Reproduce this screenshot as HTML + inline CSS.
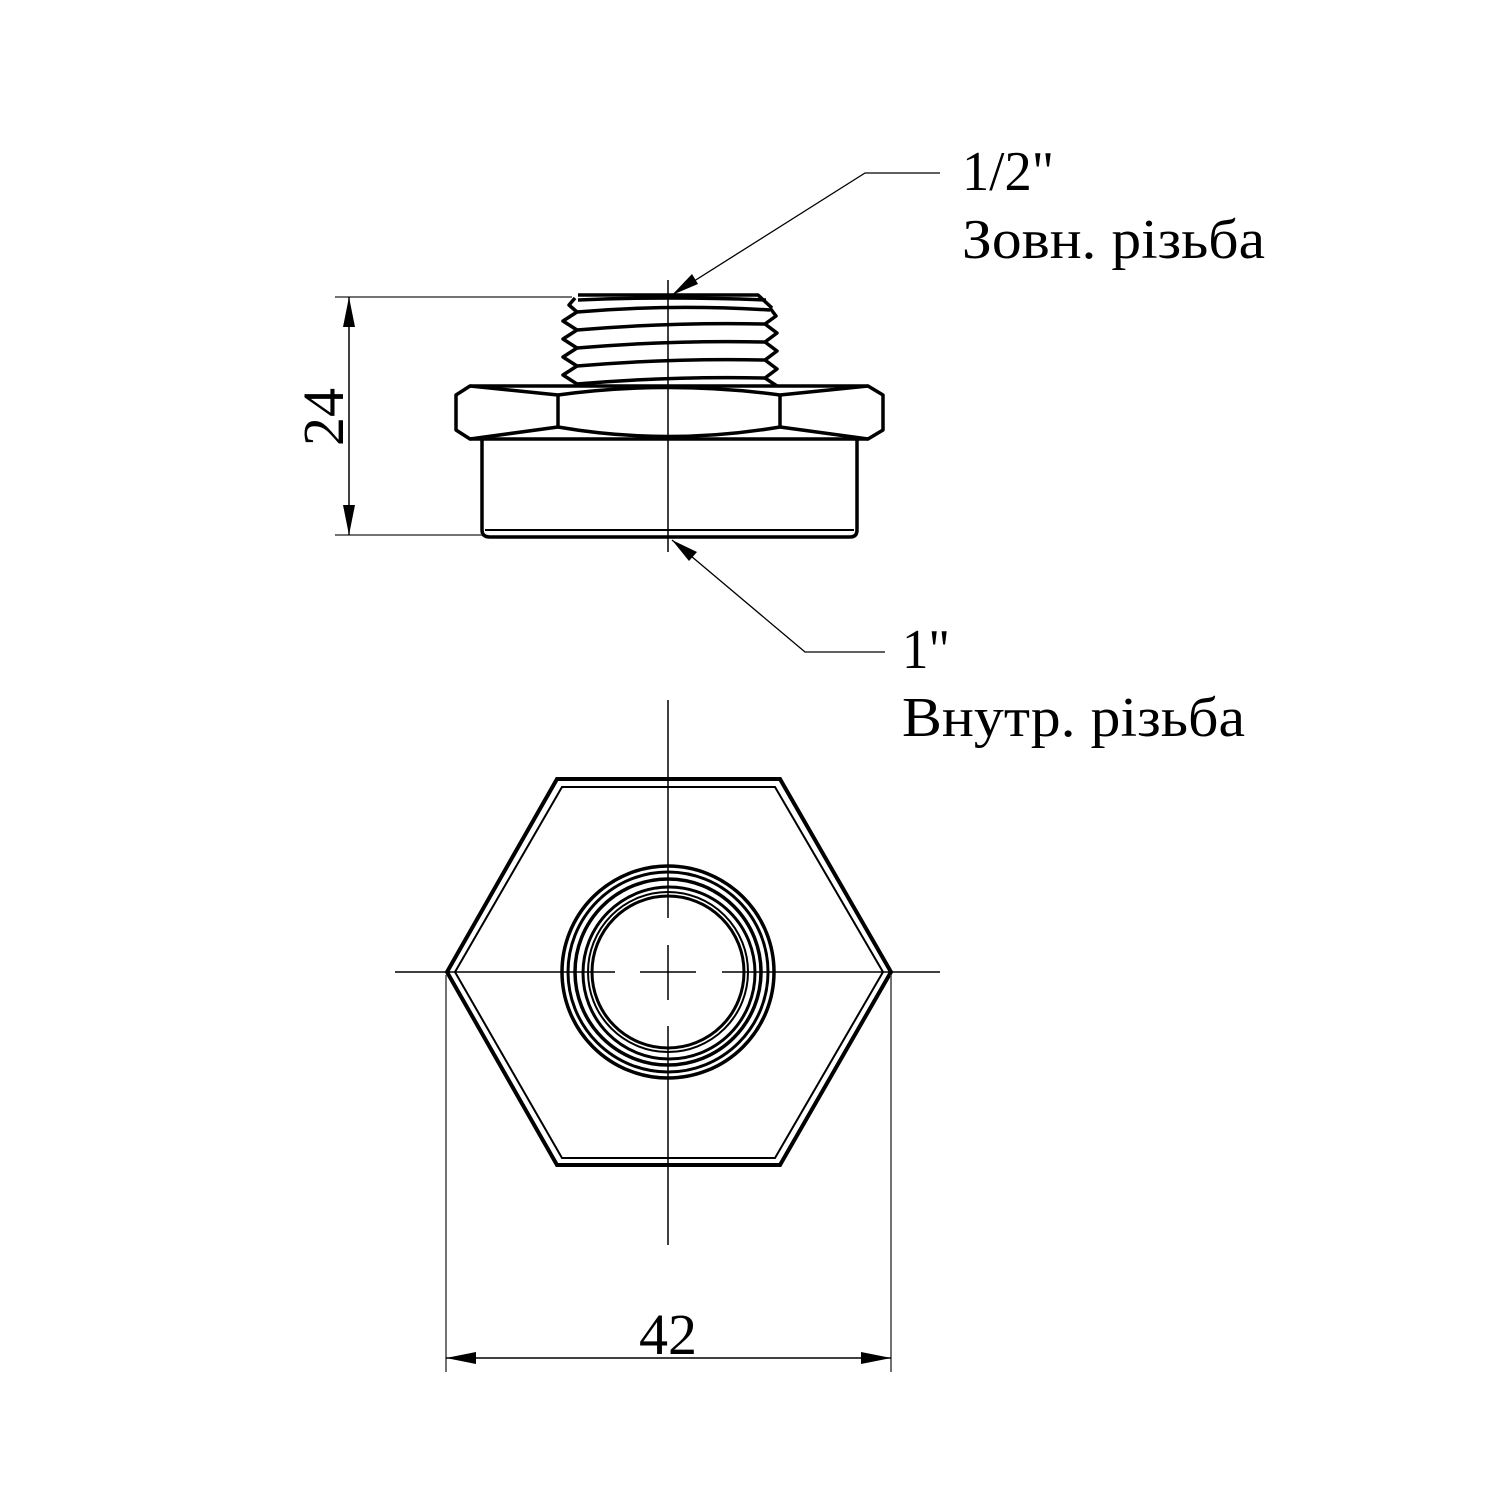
<!DOCTYPE html>
<html><head><meta charset="utf-8"><style>html,body{margin:0;padding:0;background:#fff}svg{display:block}</style></head>
<body>
<svg width="1500" height="1500" viewBox="0 0 1500 1500" xmlns="http://www.w3.org/2000/svg" font-family="'Liberation Serif', serif">
<rect width="1500" height="1500" fill="#fff"/>
<g fill="none" stroke="#000" stroke-width="3.5" stroke-linejoin="round">
  <path d="M578,295 L758,295 L772,308"/>
  <path d="M575,298 L569,305 L577,312 L563,321 L577,330 L563,339 L577,348 L563,357 L577,366 L563,375 L577,384"/>
  <path d="M770,308 L776,316 L765,324 L777,333 L765,342 L777,351 L765,360 L777,369 L765,378 L777,386"/>
  <path d="M578,300 Q670,296 766,300"/>
  <path d="M577,312 Q670,304 770,310"/>
  <path d="M577,330 Q670,322 765,324"/>
  <path d="M577,348 Q670,340 765,342"/>
  <path d="M577,366 Q670,358 765,360"/>
  <path d="M577,384 Q670,376 765,378"/>
  <path d="M470,386 L868,386 L883,395 L883,430 L868,439 L470,439 L456,430 L456,395 Z"/>
  <path d="M558,395 L558,427 M780,395 L780,427"/>
  <path d="M470,386 L558,395 Q668,380 780,395 L868,386"/>
  <path d="M470,439 L558,427 Q668,446 780,427 L868,439"/>
  <path d="M482,439 L482,530 Q482,537 490,537 L850,537 Q857,537 857,530 L857,439"/>
  <path d="M485,530 L854,530" stroke-width="2"/>
</g>
<line x1="668" y1="280" x2="668" y2="552" stroke="#000" stroke-width="1.5"/>
<g stroke="#444" stroke-width="1.5">
  <line x1="335" y1="297" x2="572" y2="297"/>
  <line x1="335" y1="535" x2="482" y2="535"/>
  <line x1="349" y1="297" x2="349" y2="535" stroke="#000"/>
</g>
<path d="M349,297 L343,327 L355,327 Z M349,535 L343,505 L355,505 Z" fill="#000"/>
<text x="0" y="0" font-size="58" transform="translate(343,417) rotate(-90)" text-anchor="middle">24</text>
<g stroke="#000" stroke-width="1.3" fill="none">
  <path d="M672,295 L865,173 L940,173"/>
  <path d="M672,540 L805,652 L885,652"/>
</g>
<path d="M672,295 L692,274 L698,284 Z" fill="#000"/>
<path d="M672,540 L697,552 L689,561 Z" fill="#000"/>
<text x="962" y="190" font-size="56" textLength="92" lengthAdjust="spacingAndGlyphs">1/2"</text>
<text x="962" y="258" font-size="56" textLength="303" lengthAdjust="spacingAndGlyphs">Зовн. різьба</text>
<text x="902" y="668" font-size="56" textLength="48" lengthAdjust="spacingAndGlyphs">1"</text>
<text x="902" y="736" font-size="56" textLength="343" lengthAdjust="spacingAndGlyphs">Внутр. різьба</text>
<g fill="none" stroke="#000">
  <path d="M447,972 L557,779 L780,779 L891,972 L780,1165 L557,1165 Z" stroke-width="4"/>
  <path d="M455,972 L562,787 L775,787 L883,972 L775,1158 L562,1158 Z" stroke-width="2"/>
  <circle cx="668" cy="972" r="106" stroke-width="3.5"/>
  <circle cx="668" cy="972" r="100" stroke-width="3"/>
  <circle cx="668" cy="972" r="93" stroke-width="3.5"/>
  <circle cx="669" cy="973" r="86" stroke-width="3"/>
  <circle cx="668" cy="972" r="80" stroke-width="2"/>
  <circle cx="668" cy="972" r="76" stroke-width="3"/>
</g>
<g stroke="#000" stroke-width="1.5">
  <line x1="668" y1="700" x2="668" y2="918"/>
  <line x1="668" y1="945" x2="668" y2="1000"/>
  <line x1="668" y1="1026" x2="668" y2="1245"/>
  <line x1="395" y1="972" x2="615" y2="972"/>
  <line x1="640" y1="972" x2="696" y2="972"/>
  <line x1="722" y1="972" x2="940" y2="972"/>
</g>
<g stroke="#444" stroke-width="1.5">
  <line x1="446" y1="975" x2="446" y2="1372"/>
  <line x1="891" y1="975" x2="891" y2="1372"/>
  <line x1="446" y1="1358" x2="891" y2="1358" stroke="#000"/>
</g>
<path d="M446,1358 L476,1352 L476,1364 Z M891,1358 L861,1352 L861,1364 Z" fill="#000"/>
<text x="668" y="1354" font-size="58" text-anchor="middle">42</text>
</svg>
</body></html>
